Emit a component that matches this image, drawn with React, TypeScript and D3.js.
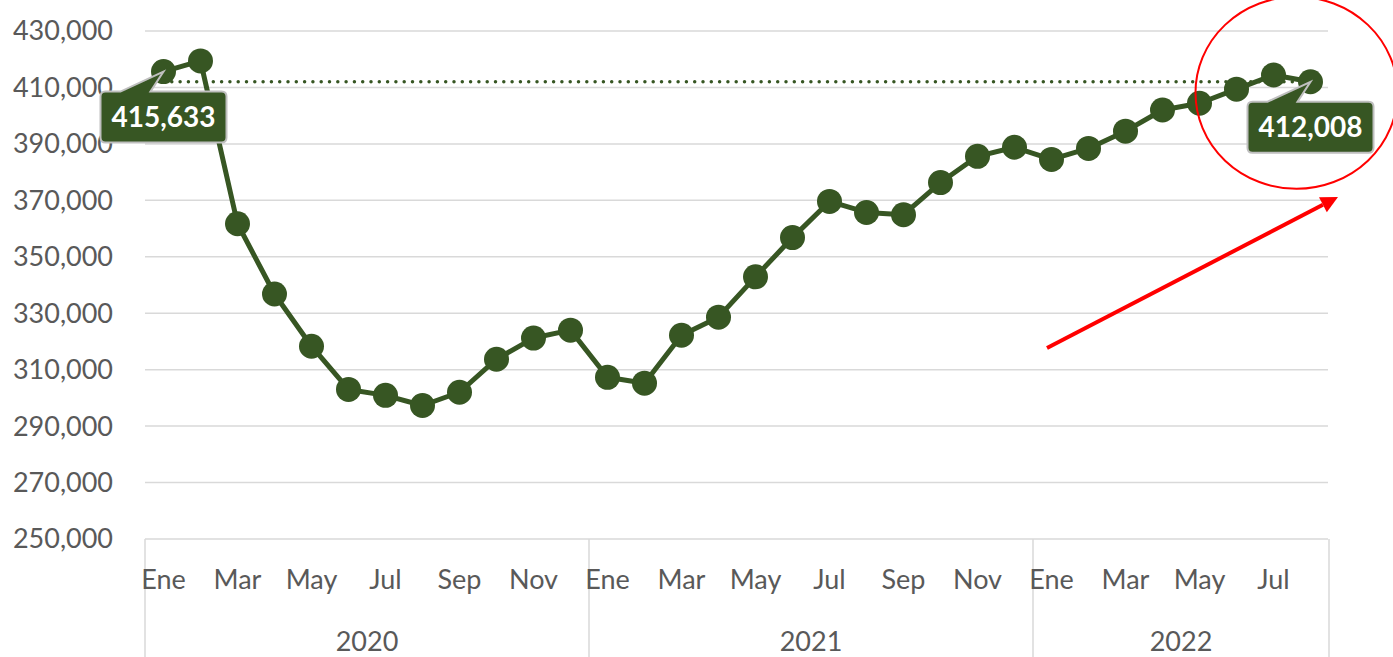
import { useMemo } from 'react';
import * as d3 from 'd3';

// Monthly series, Ene 2020 – Ago 2022
const years = ['2020', '2021', '2022'];
const monthNames = ['Ene', 'Feb', 'Mar', 'Abr', 'May', 'Jun', 'Jul', 'Ago', 'Sep', 'Oct', 'Nov', 'Dic'];
const monthsPerYear = [12, 12, 8];
const values = [
  415633, 419400, 361700, 336800, 318300, 303000, 300900, 297300, 302000, 313700, 321200, 324000,
  307300, 305200, 322200, 328600, 342900, 356800, 369600, 365700, 364900, 376300, 385600, 388800,
  384500, 388400, 394500, 402000, 404400, 409400, 414400, 412008,
];
const yTicks = [250000, 270000, 290000, 310000, 330000, 350000, 370000, 390000, 410000, 430000];

const W = 1393;
const H = 657;
const GREEN = '#375623';
const GRID = '#d9d9d9';
const TEXT = '#595959';
const FONT = 'Lato, "Open Sans", sans-serif';

interface Pt { key: string; month: string; year: string; value: number; idx: number }

const points: Pt[] = [];
years.forEach((yr, yi) => {
  for (let m = 0; m < monthsPerYear[yi]; m++) {
    const idx = points.length;
    points.push({ key: `${yr}-${m}`, month: monthNames[m], year: yr, value: values[idx], idx });
  }
});

function calloutPath(px: number, py: number, bx: number, by: number, bw: number, bh: number, b0: number, b1: number) {
  const r = 5;
  return [
    `M${bx + r},${by}`,
    `L${b0},${by}`,
    `L${px},${py}`,
    `L${b1},${by}`,
    `L${bx + bw - r},${by}`,
    `Q${bx + bw},${by} ${bx + bw},${by + r}`,
    `L${bx + bw},${by + bh - r}`,
    `Q${bx + bw},${by + bh} ${bx + bw - r},${by + bh}`,
    `L${bx + r},${by + bh}`,
    `Q${bx},${by + bh} ${bx},${by + bh - r}`,
    `L${bx},${by + r}`,
    `Q${bx},${by} ${bx + r},${by}`,
    'Z',
  ].join(' ');
}

export default function App() {
  const x = useMemo(
    () => d3.scaleBand<string>().domain(points.map((p) => p.key)).range([145, 1329]).padding(0),
    []
  );
  const y = useMemo(() => d3.scaleLinear().domain([250000, 430000]).range([539, 31]), []);
  const cx = (p: Pt) => (x(p.key) ?? 0) + x.bandwidth() / 2;

  const line = d3
    .line<Pt>()
    .x((p) => cx(p))
    .y((p) => y(p.value));

  const first = points[0];
  const last = points[points.length - 1];
  const fmt = d3.format(',');

  // year group boundaries
  const bounds: { year: string; x0: number; x1: number }[] = [];
  years.forEach((yr) => {
    const ps = points.filter((p) => p.year === yr);
    const x0 = x(ps[0].key) ?? 0;
    const x1 = (x(ps[ps.length - 1].key) ?? 0) + x.bandwidth();
    bounds.push({ year: yr, x0, x1 });
  });

  const callouts = [first, last].map((p) => {
    const px = cx(p);
    const py = y(p.value);
    const bw = 126;
    const bh = 51;
    const bx = px - bw / 2;
    const by = py + 20;
    return { p, px, py, bx, by, bw, bh };
  });

  const lx = cx(last);
  const ly = y(last.value);

  // trend arrow (annotation)
  const a0 = [1047, 348];
  const a1 = [1338, 197];
  const adx = a1[0] - a0[0];
  const ady = a1[1] - a0[1];
  const alen = Math.hypot(adx, ady);
  const ux = adx / alen;
  const uy = ady / alen;
  const headL = 17;
  const headW = 8.5;
  const base = [a1[0] - ux * headL, a1[1] - uy * headL];
  const head = `M${a1[0]},${a1[1]} L${base[0] - uy * headW},${base[1] + ux * headW} L${base[0] + uy * headW},${base[1] - ux * headW} Z`;

  return (
    <svg width={W} height={H} style={{ position: 'absolute', left: 0, top: 0, fontFamily: FONT }}>
      <rect width={W} height={H} fill="#fff" />

      {/* gridlines + y labels */}
      {yTicks.map((t) => (
        <g key={t}>
          <line x1={145} x2={1328} y1={y(t)} y2={y(t)} stroke={GRID} strokeWidth={1.5} />
          <text x={113} y={y(t)} dy="0.35em" textAnchor="end" fontSize={27} fill={TEXT}>
            {fmt(t)}
          </text>
        </g>
      ))}

      {/* category axis separators */}
      {[bounds[0].x0, ...bounds.map((b) => b.x1)].map((bx, i) => (
        <line key={i} x1={bx} x2={bx} y1={y(250000)} y2={H} stroke={GRID} strokeWidth={1.5} />
      ))}
      {points
        .filter((p) => p.idx % 2 === 0)
        .map((p) => (
          <text key={p.key} x={cx(p)} y={589} textAnchor="middle" fontSize={27} fill={TEXT}>
            {p.month}
          </text>
        ))}
      {bounds.map((b) => (
        <text key={b.year} x={(b.x0 + b.x1) / 2} y={651} textAnchor="middle" fontSize={27} fill={TEXT}>
          {b.year}
        </text>
      ))}

      {/* reference dotted line at last value */}
      <line
        x1={cx(first)}
        x2={lx}
        y1={ly}
        y2={ly}
        stroke={GREEN}
        strokeWidth={3.5}
        strokeDasharray="0 8.3"
        strokeLinecap="round"
      />

      {/* series */}
      <path d={line(points) ?? ''} fill="none" stroke={GREEN} strokeWidth={5} strokeLinejoin="round" />
      {points.map((p) => (
        <circle key={p.key} cx={cx(p)} cy={y(p.value)} r={12.5} fill={GREEN} />
      ))}

      {/* callouts */}
      {callouts.map((c, i) => (
        <g key={i}>
          <path
            d={calloutPath(c.px, c.py, c.bx, c.by, c.bw, c.bh, c.bx + 20, c.bx + 50)}
            fill={GREEN}
            stroke="#bfbfbf"
            strokeWidth={2}
          />
          <text
            x={c.bx + c.bw / 2}
            y={c.by + c.bh / 2}
            dy="0.36em"
            textAnchor="middle"
            fontSize={28}
            fontWeight={700}
            fill="#fff"
          >
            {fmt(c.p.value)}
          </text>
        </g>
      ))}

      {/* annotations */}
      <ellipse cx={lx - 14} cy={ly + 11} rx={101} ry={96} fill="none" stroke="#ff0000" strokeWidth={2} />
      <line x1={a0[0]} y1={a0[1]} x2={base[0]} y2={base[1]} stroke="#ff0000" strokeWidth={4} />
      <path d={head} fill="#ff0000" />
    </svg>
  );
}
